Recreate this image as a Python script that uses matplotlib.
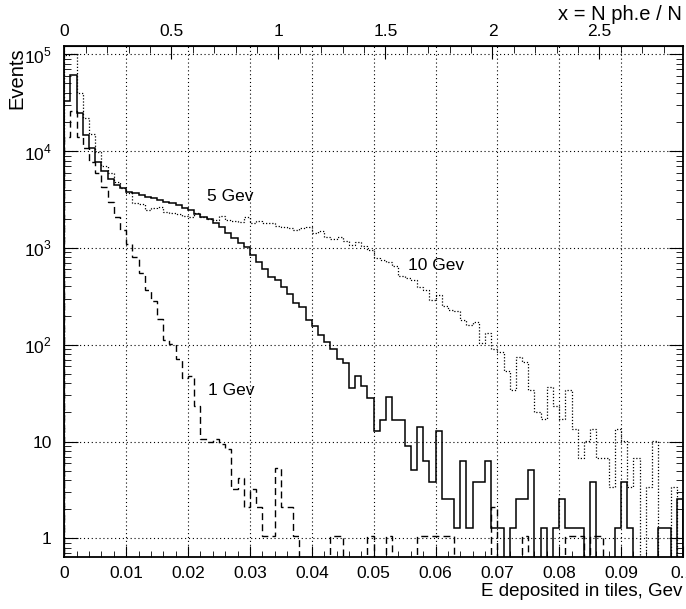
import numpy as np
import matplotlib.pyplot as plt
from matplotlib.ticker import MultipleLocator, FixedLocator, LogLocator, NullFormatter, FuncFormatter

plt.rcParams['font.family'] = ['Liberation Sans', 'DejaVu Sans']
plt.rcParams['mathtext.fontset'] = 'custom'
plt.rcParams['mathtext.rm'] = 'Liberation Sans'

# bin edges: 100 bins of 0.001 Gev
edges = np.linspace(0, 0.1, 101)

# 5 Gev (solid)
ev_5 = [32900, 61000, 24500, 14700, 10700, 7760, 6300, 5200, 4500, 4130,
        3800, 3660, 3520, 3340, 3250, 3150, 3000, 2890, 2760, 2600,
        2450, 2220, 2100, 1970, 1790, 1660, 1440, 1260, 1130, 1030,
        840, 720, 600, 505, 463, 395, 335, 269, 245, 180,
        155, 125, 107, 90, 72, 64, 36, 48, 37.5, 28,
        12.7, 16.5, 29, 16.5, 16.5, 8.9, 5.1, 14, 6.35, 3.8,
        12.7, 2.54, 2.54, 1.27, 6.35, 1.27, 3.8, 3.8, 6.35, 1.27,
        1.27, 0, 1.27, 2.54, 2.54, 5.08, 0, 1.27, 0, 1.27,
        2.54, 1.27, 1.27, 1.27, 0, 3.8, 0, 0, 0, 1.27,
        3.8, 1.27, 0, 0, 0, 0, 1.27, 1.27, 0, 2.54]

# 1 Gev (dashed)
ev_1 = [14000, 26000, 14100, 10700, 7760, 5900, 4290, 3000, 2100, 1530,
        1100, 815, 550, 370, 280, 183, 113, 102, 71, 45,
        47, 23.4, 10.6, 9.8, 10.6, 9.5, 8.4, 3.2, 4.2, 2.1,
        3.2, 2.1, 1.06, 1.06, 5.3, 2.1, 2.1, 1.06, 0, 0,
        0, 0, 0, 1.06, 1.06, 0, 0, 0, 0, 1.06,
        0, 0, 1.06, 0, 0, 0, 0, 1.06, 1.06, 1.06,
        1.06, 1.06, 1.06, 0, 0, 0, 0, 0, 0, 2.1,
        0, 0, 0, 0, 1.06, 0, 0, 0, 0, 0,
        0, 1.06, 1.06, 1.06, 0, 1.06, 1.06, 0, 0, 0,
        0, 0, 0, 0, 0, 0, 0, 0, 0, 0]

# 10 Gev (dotted)
ev_10 = [98000, 100000, 39600, 21800, 14900, 9860, 7000, 5900, 4830, 4130,
         3720, 2880, 2820, 2460, 2560, 2650, 2370, 2270, 2250, 2130,
         2100, 2270, 2100, 2010, 1960, 2130, 1960, 1890, 1860, 2080,
         1820, 1890, 1820, 1800, 1700, 1650, 1610, 1550, 1600, 1650,
         1430, 1490, 1300, 1240, 1300, 1170, 1080, 1145, 1040, 960,
         788, 757, 711, 646, 518, 490, 463, 395, 371, 292,
         329, 249, 230, 221, 181, 161, 170, 104, 132, 90,
         85, 54, 34, 74, 66, 34, 20.4, 17, 37, 23.4,
         17, 34, 13.6, 6.8, 10.2, 13.6, 6.8, 6.8, 3.4, 13.6,
         10.2, 3.4, 6.8, 0, 3.4, 10.2, 0, 0, 3.4, 0]

top_ticks = [0, 0.5, 1, 1.5, 2, 2.5]
k_top = 28.9  # E deposited -> N ph.e / N

fig = plt.figure(figsize=(6.86, 6.09), dpi=100)
ax = fig.add_axes([0.0937, 0.0859, 0.9019, 0.8386])
ax.set_yscale('log')

ax.stairs(ev_5, edges, color='k', lw=1.1)
ax.stairs(ev_1, edges, color='k', lw=1.0, ls=(0, (5, 3)))
ax.stairs(ev_10, edges, color='k', lw=0.9, ls=(0, (1, 1.5)))

ax.set_xlim(0, 0.1)
ax.set_ylim(0.646, 1.22e5)

ax.text(0.0231, 3360, '5 Gev', fontsize=12.5, va='center')
ax.text(0.0555, 665, '10 Gev', fontsize=12.5, va='center')
ax.text(0.0232, 34, '1 Gev', fontsize=12.5, va='center')

ax.grid(True, which='major', ls=(0, (1, 2.5)), color='k', lw=0.8)

ax.xaxis.set_major_locator(MultipleLocator(0.01))
ax.xaxis.set_minor_locator(MultipleLocator(0.002))
ax.xaxis.set_major_formatter(FuncFormatter(
    lambda v, p: '0' if abs(v) < 1e-9 else ('%.2f' % v).rstrip('0')))

def ylab(v, p):
    if v < 5:
        return '1'
    if v < 50:
        return '10'
    return r'$10^{%d}$' % round(np.log10(v))

ax.yaxis.set_major_locator(LogLocator(base=10, numticks=10))
ax.yaxis.set_minor_locator(LogLocator(base=10, subs=np.arange(2, 10), numticks=20))
ax.yaxis.set_major_formatter(FuncFormatter(ylab))
ax.yaxis.set_minor_formatter(NullFormatter())

ax.tick_params(which='both', direction='in', top=False, right=True, labelsize=12.5)
ax.tick_params(axis='x', which='major', length=8, pad=7)
ax.tick_params(axis='x', which='minor', length=4)
ax.tick_params(axis='y', which='major', length=10, pad=9)
ax.tick_params(axis='y', which='minor', length=5)
for s in ax.spines.values():
    s.set_linewidth(1.3)

sec = ax.secondary_xaxis('top', functions=(lambda e: e * k_top, lambda x: x / k_top))
sec.xaxis.set_major_locator(FixedLocator(top_ticks))
sec.xaxis.set_minor_locator(FixedLocator(np.arange(1, 29) / 10))
sec.xaxis.set_major_formatter(FuncFormatter(lambda v, p: '%g' % v))
sec.tick_params(which='both', direction='in', labelsize=12.5)
sec.tick_params(which='major', length=9, pad=5)
sec.tick_params(which='minor', length=5)

fig.text(0.024, 1 - 47 / 609, 'Events', rotation=90, ha='center', va='top', fontsize=14.5)
fig.text(682 / 686, 1 - 592 / 609, 'E deposited in tiles, Gev', ha='right', va='center', fontsize=13.5)
fig.text(682 / 686, 1 - 14 / 609, 'x = N ph.e / N', ha='right', va='center', fontsize=14.5)

fig.savefig('out.png', dpi=100)
